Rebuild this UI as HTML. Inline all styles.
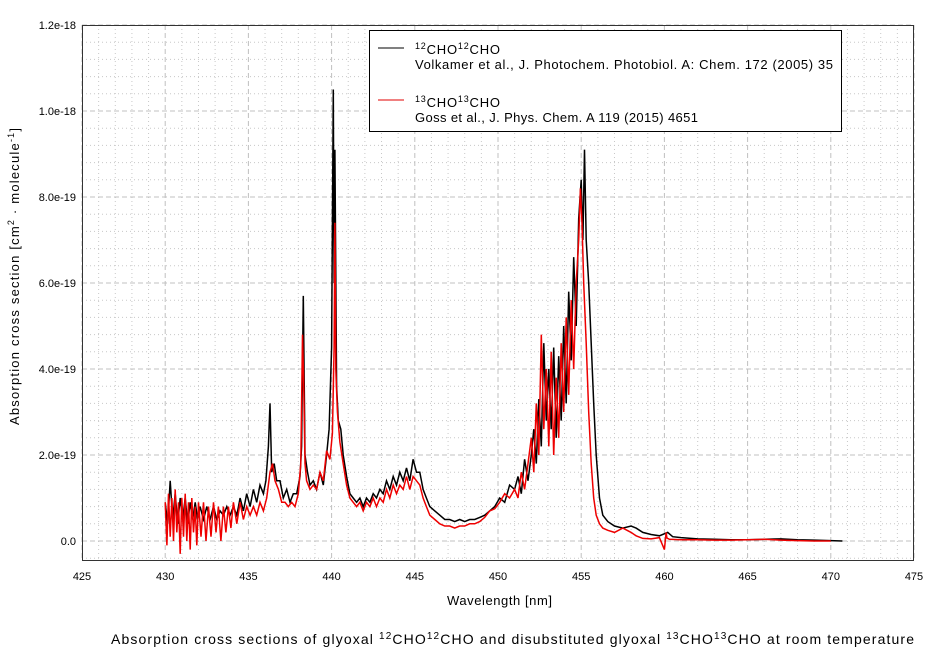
<!DOCTYPE html>
<html><head><meta charset="utf-8"><style>
body{margin:0;background:#fff;}
svg{display:block;font-family:"Liberation Sans",Arial,sans-serif;}
</style></head><body>
<svg id="chart" width="942" height="653" viewBox="0 0 942 653" xmlns="http://www.w3.org/2000/svg">
<g id="grid"></g>
<g id="series"></g>
<g id="axes"></g>
<text x="447" y="605" font-size="13" textLength="105" lengthAdjust="spacing">Wavelength [nm]</text>
<text transform="translate(19,425) rotate(-90)" font-size="13" textLength="297" lengthAdjust="spacing">Absorption cross section [cm<tspan dy="-5" font-size="9">2</tspan><tspan dy="5"> · molecule</tspan><tspan dy="-5" font-size="9">-1</tspan><tspan dy="5">]</tspan></text>
<text x="111" y="644" font-size="14" textLength="803" lengthAdjust="spacing">Absorption cross sections of glyoxal <tspan dy="-5" font-size="10">12</tspan><tspan dy="5">CHO</tspan><tspan dy="-5" font-size="10">12</tspan><tspan dy="5">CHO and disubstituted glyoxal </tspan><tspan dy="-5" font-size="10">13</tspan><tspan dy="5">CHO</tspan><tspan dy="-5" font-size="10">13</tspan><tspan dy="5">CHO at room temperature</tspan></text>
<g>
<rect x="369.5" y="30.5" width="472" height="101" fill="#fff" stroke="#000" stroke-width="1"/>
<line x1="378" y1="48" x2="404" y2="48" stroke="#000"/>
<text x="415" y="54" font-size="13" textLength="85" lengthAdjust="spacing"><tspan dy="-5" font-size="9">12</tspan><tspan dy="5">CHO</tspan><tspan dy="-5" font-size="9">12</tspan><tspan dy="5">CHO</tspan></text>
<text x="415" y="69" font-size="13" textLength="418" lengthAdjust="spacing">Volkamer et al., J. Photochem. Photobiol. A: Chem. 172 (2005) 35</text>
<line x1="378" y1="100" x2="404" y2="100" stroke="#e00000"/>
<text x="415" y="107" font-size="13" textLength="85" lengthAdjust="spacing"><tspan dy="-5" font-size="9">13</tspan><tspan dy="5">CHO</tspan><tspan dy="-5" font-size="9">13</tspan><tspan dy="5">CHO</tspan></text>
<text x="415" y="122" font-size="13" textLength="283" lengthAdjust="spacing">Goss et al., J. Phys. Chem. A 119 (2015) 4651</text>
</g>
</svg>
<script>
// values in units of 1e-19 cm^2/molecule
const xTicks=[425,430,435,440,445,450,455,460,465,470,475];
const yTicks=[0,2,4,6,8,10,12];
const yTickLabels=["0.0","2.0e-19","4.0e-19","6.0e-19","8.0e-19","1.0e-18","1.2e-18"];
const wl12=[430,430.15,430.3,430.45,430.6,430.75,430.9,431.05,431.2,431.35,431.5,431.65,431.8,431.95,432.1,432.3,432.5,432.7,432.9,433.1,433.3,433.5,433.7,433.9,434.1,434.3,434.5,434.7,434.9,435.1,435.3,435.5,435.7,435.9,436.05,436.2,436.3,436.4,436.55,436.7,436.9,437.1,437.3,437.5,437.7,437.9,438.1,438.2,438.3,438.4,438.55,438.7,438.9,439.1,439.3,439.5,439.7,439.85,440,440.1,440.15,440.2,440.3,440.4,440.55,440.7,440.9,441.1,441.3,441.5,441.7,441.9,442.1,442.3,442.5,442.7,442.9,443.1,443.3,443.5,443.7,443.9,444.1,444.3,444.5,444.7,444.9,445.1,445.3,445.5,445.7,445.9,446.2,446.5,446.8,447.1,447.4,447.7,448,448.3,448.6,448.9,449.2,449.5,449.8,450.1,450.4,450.7,451,451.2,451.4,451.6,451.8,452,452.15,452.3,452.45,452.6,452.75,452.9,453.05,453.2,453.35,453.5,453.65,453.8,453.95,
454.1,454.25,454.4,454.55,454.7,454.85,455,455.1,455.2,455.3,
455.45,455.6,455.75,455.9,456.1,456.3,456.6,457,457.5,458,458.3,458.7,459.2,459.7,460.2,460.5,461,462,463,464,465,466,467,468,469,470,470.7];
const cs12=[0.9,0.4,1.4,0.5,1.1,0.4,1.0,0.5,1.0,0.4,0.9,0.5,0.9,0.5,0.8,0.5,0.8,0.5,0.8,0.5,0.7,0.6,0.8,0.6,0.8,0.6,1.0,0.7,1.1,0.8,1.2,0.9,1.3,1.1,1.4,2.2,3.2,1.6,1.8,1.4,1.4,1.0,1.2,0.9,1.1,1.1,1.5,2.2,5.7,2.0,1.6,1.3,1.4,1.2,1.6,1.3,2.0,2.6,4.5,10.5,6.0,9.1,3.6,2.8,2.6,2.0,1.5,1.1,1.0,0.9,1.0,0.8,1.0,0.9,1.1,1.0,1.2,1.1,1.4,1.2,1.5,1.3,1.6,1.4,1.7,1.4,1.9,1.6,1.6,1.2,1.0,0.8,0.7,0.6,0.5,0.5,0.45,0.5,0.45,0.5,0.5,0.55,0.6,0.7,0.8,1.0,0.9,1.3,1.2,1.5,1.1,1.9,1.4,2.0,2.6,1.8,3.3,2.2,4.6,2.8,4.0,2.6,4.5,2.4,4.3,2.8,5.0,
3.2,5.8,4.2,6.6,5.0,7.5,8.4,7.0,9.1,7.0,
6.0,4.6,3.2,2.0,1.0,0.6,0.45,0.35,0.3,0.35,0.3,0.2,0.15,0.12,0.2,0.1,0.08,0.05,0.04,0.03,0.03,0.04,0.05,0.03,0.02,0.01,0.0];
const wl13=[430,430.1,430.2,430.3,430.4,430.5,430.6,430.7,430.8,430.9,431,431.1,431.2,431.3,431.4,431.5,431.6,431.7,431.8,431.9,432,432.15,432.3,432.45,432.6,432.75,432.9,433.05,433.2,433.35,433.5,433.65,433.8,433.95,434.1,434.3,434.5,434.7,434.9,435.1,435.3,435.5,435.7,435.9,436.1,436.3,436.45,436.6,436.8,437,437.2,437.4,437.6,437.8,438,438.15,438.25,438.32,438.4,438.5,438.7,438.9,439.1,439.3,439.5,439.7,439.9,440.05,440.15,440.2,440.25,440.35,440.5,440.7,440.9,441.1,441.3,441.5,441.7,441.9,442.1,442.3,442.5,442.7,442.9,443.1,443.3,443.5,443.7,443.9,444.1,444.3,444.5,444.7,444.9,445.1,445.3,445.5,445.7,445.9,446.2,446.5,446.8,447.1,447.4,447.7,448,448.3,448.6,448.9,449.2,449.5,449.8,450.1,450.4,450.7,451,451.2,451.4,451.6,451.8,452,452.15,452.3,452.45,452.6,452.75,452.9,453.05,453.2,453.35,453.5,453.65,453.8,453.95,
454.1,454.25,454.4,454.55,454.7,454.85,454.95,455.05,455.15,455.3,455.45,455.6,455.75,455.9,456.1,456.3,456.6,457,457.5,458,458.3,458.7,459.2,459.7,460,460.1,460.15,460.3,461,462,463,464,465,466,467,468,469,470,470.7];
const cs13=[0.9,-0.1,1.1,0.1,1.0,0.0,1.2,0.2,0.9,-0.3,1.0,0.1,1.1,0.0,0.9,-0.2,1.0,0.2,0.8,-0.1,0.9,0.1,0.9,0.0,0.8,0.1,0.9,0.2,0.8,0.0,0.8,0.2,0.8,0.3,0.9,0.4,0.9,0.5,0.8,0.6,0.8,0.6,0.9,0.7,1.0,1.6,1.8,1.4,1.2,0.9,0.9,0.8,0.9,0.8,1.1,1.8,4.8,3.8,1.8,1.4,1.2,1.3,1.2,1.6,1.4,2.1,1.9,2.5,4.5,7.4,4.0,3.0,2.3,1.8,1.3,1.0,0.9,0.8,0.9,0.7,0.9,0.8,1.0,0.8,1.0,0.9,1.2,1.0,1.3,1.1,1.3,1.2,1.5,1.2,1.5,1.4,1.3,1.0,0.8,0.6,0.5,0.4,0.35,0.35,0.3,0.35,0.35,0.4,0.4,0.45,0.55,0.7,0.75,0.9,1.1,1.0,1.2,1.0,1.6,1.2,1.8,2.4,1.6,3.2,2.0,4.8,2.6,4.0,2.2,4.4,2.0,3.8,2.4,4.6,
3.0,5.2,3.4,5.6,4.0,6.0,7.0,8.2,7.4,6.0,4.6,3.0,1.8,1.0,0.6,0.4,0.3,0.25,0.2,0.3,0.2,0.12,0.06,0.05,0.08,-0.2,0.2,0.07,0.04,0.03,0.03,0.02,0.02,0.03,0.04,0.02,0.01,0.0,0.0];
const L=82,R=914,T=25,B=561;
const xs=w=>L+(w-425)*(R-L)/50;
const ys=v=>541-v*43;
const NS="http://www.w3.org/2000/svg";
function mk(tag,attrs,parent){const e=document.createElementNS(NS,tag);for(const k in attrs)e.setAttribute(k,attrs[k]);parent.appendChild(e);return e;}
const grid=document.getElementById('grid'),axes=document.getElementById('axes'),series=document.getElementById('series');
mk('rect',{x:L,y:T,width:R-L,height:B-T,fill:'#fff'},grid);
for(let w=426;w<475;w++){if(w%5===0)continue;const g=mk('line',{x1:xs(w),x2:xs(w),y1:T,y2:B,stroke:'#c8c8c8','stroke-dasharray':'1,3'},grid);

}
for(let v=-0.4;v<12;v+=0.4){const y=ys(v);if(y<T||y>B)continue;if(Math.abs(v/2-Math.round(v/2))<0.01)continue;const g=mk('line',{x1:L,x2:R,y1:y,y2:y,stroke:'#c8c8c8','stroke-dasharray':'1,3'},grid);

}
xTicks.forEach(w=>{const g=mk('line',{x1:xs(w),x2:xs(w),y1:T,y2:B,stroke:'#c0c0c0','stroke-dasharray':'5,3'},grid);


const t=mk('text',{x:xs(w),y:B+19,'font-size':11,'text-anchor':'middle'},axes);t.textContent=w;

});
yTicks.forEach((v,i)=>{const g=mk('line',{x1:L,x2:R,y1:ys(v),y2:ys(v),stroke:'#c0c0c0','stroke-dasharray':'5,3'},grid);


const t=mk('text',{x:L-6,y:ys(v)+4,'font-size':11,'text-anchor':'end'},axes);t.textContent=yTickLabels[i];

});
const fr=mk('rect',{x:L+0.5,y:T+0.5,width:R-L-1,height:B-T-1,fill:'none',stroke:'#333'},axes);


function line(wl,cs,color,name){const n=Math.min(wl.length,cs.length);const d=wl.slice(0,n).map((w,i)=>(i?'L':'M')+xs(w).toFixed(1)+','+ys(cs[i]).toFixed(1)).join('');
const p=mk('path',{d:d,fill:'none',stroke:color,'stroke-width':1.5,'stroke-linejoin':'miter'},series);

}
line(wl12,cs12,'#000','series-12cho');
line(wl13,cs13,'#ee0000','series-13cho');
</script>
</body></html>
